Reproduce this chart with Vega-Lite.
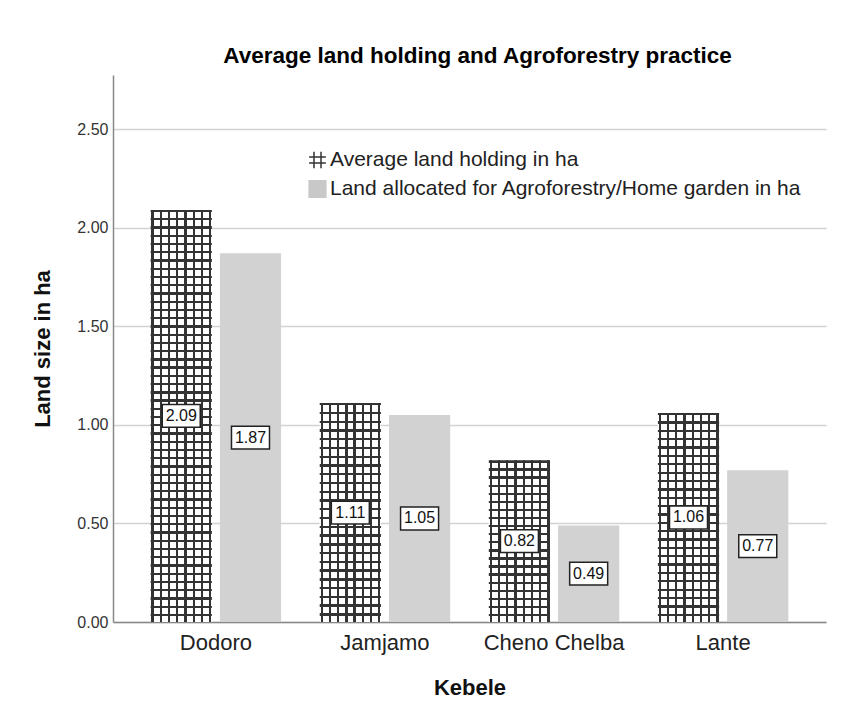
{
  "$schema": "https://vega.github.io/schema/vega-lite/v6.json",
  "width": 713,
  "height": 547,
  "autosize": {"type": "none"},
  "padding": {"left": 113, "top": 75, "right": 40, "bottom": 86},
  "background": "white",
  "config": {
    "font": "Liberation Sans",
    "view": {"stroke": null},
    "legend": {
      "orient": "none",
      "legendX": 194,
      "legendY": 74.5,
      "labelFontSize": 21,
      "labelColor": "#222222",
      "labelFont": "Liberation Sans",
      "labelLimit": 700,
      "symbolSize": 280,
      "symbolStrokeWidth": 1.5,
      "symbolOpacity": 1,
      "labelOffset": 2,
      "rowPadding": 6,
      "padding": 0
    }
  },
  "title": {
    "text": "Average land holding and Agroforestry practice",
    "fontSize": 22.5,
    "fontWeight": "bold",
    "color": "#000000",
    "anchor": "middle",
    "baseline": "alphabetic",
    "offset": 12,
    "dx": 8,
    "dy": 22
  },
  "data": {
    "values": [
      {"kebele": "Dodoro", "series": "Average land holding in ha", "value": 2.09},
      {"kebele": "Dodoro", "series": "Land  allocated for Agroforestry/Home garden in ha", "value": 1.87},
      {"kebele": "Jamjamo", "series": "Average land holding in ha", "value": 1.11},
      {"kebele": "Jamjamo", "series": "Land  allocated for Agroforestry/Home garden in ha", "value": 1.05},
      {"kebele": "Cheno Chelba", "series": "Average land holding in ha", "value": 0.82},
      {"kebele": "Cheno Chelba", "series": "Land  allocated for Agroforestry/Home garden in ha", "value": 0.49},
      {"kebele": "Lante", "series": "Average land holding in ha", "value": 1.06},
      {"kebele": "Lante", "series": "Land  allocated for Agroforestry/Home garden in ha", "value": 0.77}
    ]
  },
  "encoding": {
    "x": {
      "field": "kebele",
      "type": "nominal",
      "sort": ["Dodoro", "Jamjamo", "Cheno Chelba", "Lante"],
      "scale": {"paddingInner": 0.2285, "paddingOuter": 0.2226},
      "axis": {
        "title": "Kebele",
        "titleFontSize": 22,
        "titleFontWeight": "bold",
        "titleColor": "#111111",
        "titlePadding": 24,
        "labelFontSize": 22,
        "labelColor": "#222222",
        "labelPadding": 10,
        "labelAngle": 0,
        "ticks": false,
        "domainColor": "#888888",
        "domainWidth": 1.5,
        "grid": false
      }
    },
    "xOffset": {
      "field": "series",
      "type": "nominal",
      "scale": {
        "domain": ["Average land holding in ha", "Land  allocated for Agroforestry/Home garden in ha"],
        "paddingInner": 0.116,
        "paddingOuter": 0
      }
    }
  },
  "layer": [
    {
      "encoding": {
        "y": {
          "field": "value",
          "type": "quantitative",
          "scale": {"domain": [0, 2.774], "nice": false},
          "axis": {
            "title": "Land size in ha",
            "titleFontSize": 22,
            "titleFontWeight": "bold",
            "titleColor": "#111111",
            "titlePadding": 22,
            "labelFontSize": 16,
            "labelColor": "#333333",
            "labelPadding": 5,
            "format": ".2f",
            "values": [0, 0.5, 1, 1.5, 2, 2.5],
            "ticks": false,
            "domainColor": "#888888",
            "domainWidth": 1.5,
            "gridColor": "#d2d2d2",
            "gridWidth": 1.5
          }
        }
      },
      "layer": [
        {
          "mark": {"type": "bar"},
          "encoding": {
            "fill": {
              "condition": {
                "test": "datum.series === 'Average land holding in ha'",
                "value": {
                  "gradient": "linear", "x1": 0, "y1": 0, "x2": 1, "y2": 0,
                  "stops": [
                    {"offset": 0, "color": "#ffffff"}, {"offset": 0.0131, "color": "#ffffff"}, {"offset": 0.0131, "color": "#333333"}, {"offset": 0.0508, "color": "#333333"}, {"offset": 0.0508, "color": "#ffffff"},
                    {"offset": 0.1475, "color": "#ffffff"}, {"offset": 0.1475, "color": "#333333"}, {"offset": 0.1852, "color": "#333333"}, {"offset": 0.1852, "color": "#ffffff"},
                    {"offset": 0.282, "color": "#ffffff"}, {"offset": 0.282, "color": "#333333"}, {"offset": 0.3197, "color": "#333333"}, {"offset": 0.3197, "color": "#ffffff"},
                    {"offset": 0.4164, "color": "#ffffff"}, {"offset": 0.4164, "color": "#333333"}, {"offset": 0.4541, "color": "#333333"}, {"offset": 0.4541, "color": "#ffffff"},
                    {"offset": 0.5508, "color": "#ffffff"}, {"offset": 0.5508, "color": "#333333"}, {"offset": 0.5885, "color": "#333333"}, {"offset": 0.5885, "color": "#ffffff"},
                    {"offset": 0.6852, "color": "#ffffff"}, {"offset": 0.6852, "color": "#333333"}, {"offset": 0.723, "color": "#333333"}, {"offset": 0.723, "color": "#ffffff"},
                    {"offset": 0.8197, "color": "#ffffff"}, {"offset": 0.8197, "color": "#333333"}, {"offset": 0.8574, "color": "#333333"}, {"offset": 0.8574, "color": "#ffffff"},
                    {"offset": 0.9541, "color": "#ffffff"}, {"offset": 0.9541, "color": "#333333"}, {"offset": 0.9918, "color": "#333333"}, {"offset": 0.9918, "color": "#ffffff"},
                    {"offset": 1, "color": "#ffffff"}
                  ]
                }
              },
              "value": "#d2d2d2"
            }
          }
        },
        {
          "transform": [{"filter": "datum.series === 'Average land holding in ha'"}],
          "mark": {"type": "bar"},
          "encoding": {
            "fill": {
              "condition": [
                {
                  "test": "datum.kebele === 'Dodoro'",
                  "value": {
                    "gradient": "linear", "x1": 0, "y1": 0, "x2": 0, "y2": 1,
                    "stops": [
                      {"offset": 0, "color": "transparent"}, {"offset": 0, "color": "#333333"}, {"offset": 0.0056, "color": "#333333"}, {"offset": 0.0056, "color": "transparent"},
                      {"offset": 0.02, "color": "transparent"}, {"offset": 0.02, "color": "#333333"}, {"offset": 0.0256, "color": "#333333"}, {"offset": 0.0256, "color": "transparent"},
                      {"offset": 0.04, "color": "transparent"}, {"offset": 0.04, "color": "#333333"}, {"offset": 0.0456, "color": "#333333"}, {"offset": 0.0456, "color": "transparent"},
                      {"offset": 0.06, "color": "transparent"}, {"offset": 0.06, "color": "#333333"}, {"offset": 0.0656, "color": "#333333"}, {"offset": 0.0656, "color": "transparent"},
                      {"offset": 0.08, "color": "transparent"}, {"offset": 0.08, "color": "#333333"}, {"offset": 0.0856, "color": "#333333"}, {"offset": 0.0856, "color": "transparent"},
                      {"offset": 0.1, "color": "transparent"}, {"offset": 0.1, "color": "#333333"}, {"offset": 0.1056, "color": "#333333"}, {"offset": 0.1056, "color": "transparent"},
                      {"offset": 0.12, "color": "transparent"}, {"offset": 0.12, "color": "#333333"}, {"offset": 0.1256, "color": "#333333"}, {"offset": 0.1256, "color": "transparent"},
                      {"offset": 0.14, "color": "transparent"}, {"offset": 0.14, "color": "#333333"}, {"offset": 0.1456, "color": "#333333"}, {"offset": 0.1456, "color": "transparent"},
                      {"offset": 0.16, "color": "transparent"}, {"offset": 0.16, "color": "#333333"}, {"offset": 0.1656, "color": "#333333"}, {"offset": 0.1656, "color": "transparent"},
                      {"offset": 0.18, "color": "transparent"}, {"offset": 0.18, "color": "#333333"}, {"offset": 0.1856, "color": "#333333"}, {"offset": 0.1856, "color": "transparent"},
                      {"offset": 0.2, "color": "transparent"}, {"offset": 0.2, "color": "#333333"}, {"offset": 0.2056, "color": "#333333"}, {"offset": 0.2056, "color": "transparent"},
                      {"offset": 0.22, "color": "transparent"}, {"offset": 0.22, "color": "#333333"}, {"offset": 0.2256, "color": "#333333"}, {"offset": 0.2256, "color": "transparent"},
                      {"offset": 0.24, "color": "transparent"}, {"offset": 0.24, "color": "#333333"}, {"offset": 0.2456, "color": "#333333"}, {"offset": 0.2456, "color": "transparent"},
                      {"offset": 0.26, "color": "transparent"}, {"offset": 0.26, "color": "#333333"}, {"offset": 0.2656, "color": "#333333"}, {"offset": 0.2656, "color": "transparent"},
                      {"offset": 0.28, "color": "transparent"}, {"offset": 0.28, "color": "#333333"}, {"offset": 0.2856, "color": "#333333"}, {"offset": 0.2856, "color": "transparent"},
                      {"offset": 0.3, "color": "transparent"}, {"offset": 0.3, "color": "#333333"}, {"offset": 0.3056, "color": "#333333"}, {"offset": 0.3056, "color": "transparent"},
                      {"offset": 0.32, "color": "transparent"}, {"offset": 0.32, "color": "#333333"}, {"offset": 0.3256, "color": "#333333"}, {"offset": 0.3256, "color": "transparent"},
                      {"offset": 0.34, "color": "transparent"}, {"offset": 0.34, "color": "#333333"}, {"offset": 0.3456, "color": "#333333"}, {"offset": 0.3456, "color": "transparent"},
                      {"offset": 0.36, "color": "transparent"}, {"offset": 0.36, "color": "#333333"}, {"offset": 0.3656, "color": "#333333"}, {"offset": 0.3656, "color": "transparent"},
                      {"offset": 0.38, "color": "transparent"}, {"offset": 0.38, "color": "#333333"}, {"offset": 0.3856, "color": "#333333"}, {"offset": 0.3856, "color": "transparent"},
                      {"offset": 0.4, "color": "transparent"}, {"offset": 0.4, "color": "#333333"}, {"offset": 0.4056, "color": "#333333"}, {"offset": 0.4056, "color": "transparent"},
                      {"offset": 0.42, "color": "transparent"}, {"offset": 0.42, "color": "#333333"}, {"offset": 0.4256, "color": "#333333"}, {"offset": 0.4256, "color": "transparent"},
                      {"offset": 0.44, "color": "transparent"}, {"offset": 0.44, "color": "#333333"}, {"offset": 0.4456, "color": "#333333"}, {"offset": 0.4456, "color": "transparent"},
                      {"offset": 0.46, "color": "transparent"}, {"offset": 0.46, "color": "#333333"}, {"offset": 0.4656, "color": "#333333"}, {"offset": 0.4656, "color": "transparent"},
                      {"offset": 0.48, "color": "transparent"}, {"offset": 0.48, "color": "#333333"}, {"offset": 0.4856, "color": "#333333"}, {"offset": 0.4856, "color": "transparent"},
                      {"offset": 0.5, "color": "transparent"}, {"offset": 0.5, "color": "#333333"}, {"offset": 0.5056, "color": "#333333"}, {"offset": 0.5056, "color": "transparent"},
                      {"offset": 0.52, "color": "transparent"}, {"offset": 0.52, "color": "#333333"}, {"offset": 0.5256, "color": "#333333"}, {"offset": 0.5256, "color": "transparent"},
                      {"offset": 0.54, "color": "transparent"}, {"offset": 0.54, "color": "#333333"}, {"offset": 0.5456, "color": "#333333"}, {"offset": 0.5456, "color": "transparent"},
                      {"offset": 0.56, "color": "transparent"}, {"offset": 0.56, "color": "#333333"}, {"offset": 0.5656, "color": "#333333"}, {"offset": 0.5656, "color": "transparent"},
                      {"offset": 0.58, "color": "transparent"}, {"offset": 0.58, "color": "#333333"}, {"offset": 0.5856, "color": "#333333"}, {"offset": 0.5856, "color": "transparent"},
                      {"offset": 0.6, "color": "transparent"}, {"offset": 0.6, "color": "#333333"}, {"offset": 0.6056, "color": "#333333"}, {"offset": 0.6056, "color": "transparent"},
                      {"offset": 0.62, "color": "transparent"}, {"offset": 0.62, "color": "#333333"}, {"offset": 0.6256, "color": "#333333"}, {"offset": 0.6256, "color": "transparent"},
                      {"offset": 0.64, "color": "transparent"}, {"offset": 0.64, "color": "#333333"}, {"offset": 0.6456, "color": "#333333"}, {"offset": 0.6456, "color": "transparent"},
                      {"offset": 0.66, "color": "transparent"}, {"offset": 0.66, "color": "#333333"}, {"offset": 0.6656, "color": "#333333"}, {"offset": 0.6656, "color": "transparent"},
                      {"offset": 0.68, "color": "transparent"}, {"offset": 0.68, "color": "#333333"}, {"offset": 0.6856, "color": "#333333"}, {"offset": 0.6856, "color": "transparent"},
                      {"offset": 0.7, "color": "transparent"}, {"offset": 0.7, "color": "#333333"}, {"offset": 0.7056, "color": "#333333"}, {"offset": 0.7056, "color": "transparent"},
                      {"offset": 0.72, "color": "transparent"}, {"offset": 0.72, "color": "#333333"}, {"offset": 0.7256, "color": "#333333"}, {"offset": 0.7256, "color": "transparent"},
                      {"offset": 0.74, "color": "transparent"}, {"offset": 0.74, "color": "#333333"}, {"offset": 0.7456, "color": "#333333"}, {"offset": 0.7456, "color": "transparent"},
                      {"offset": 0.76, "color": "transparent"}, {"offset": 0.76, "color": "#333333"}, {"offset": 0.7656, "color": "#333333"}, {"offset": 0.7656, "color": "transparent"},
                      {"offset": 0.78, "color": "transparent"}, {"offset": 0.78, "color": "#333333"}, {"offset": 0.7856, "color": "#333333"}, {"offset": 0.7856, "color": "transparent"},
                      {"offset": 0.8, "color": "transparent"}, {"offset": 0.8, "color": "#333333"}, {"offset": 0.8056, "color": "#333333"}, {"offset": 0.8056, "color": "transparent"},
                      {"offset": 0.82, "color": "transparent"}, {"offset": 0.82, "color": "#333333"}, {"offset": 0.8256, "color": "#333333"}, {"offset": 0.8256, "color": "transparent"},
                      {"offset": 0.84, "color": "transparent"}, {"offset": 0.84, "color": "#333333"}, {"offset": 0.8456, "color": "#333333"}, {"offset": 0.8456, "color": "transparent"},
                      {"offset": 0.86, "color": "transparent"}, {"offset": 0.86, "color": "#333333"}, {"offset": 0.8656, "color": "#333333"}, {"offset": 0.8656, "color": "transparent"},
                      {"offset": 0.88, "color": "transparent"}, {"offset": 0.88, "color": "#333333"}, {"offset": 0.8856, "color": "#333333"}, {"offset": 0.8856, "color": "transparent"},
                      {"offset": 0.9, "color": "transparent"}, {"offset": 0.9, "color": "#333333"}, {"offset": 0.9056, "color": "#333333"}, {"offset": 0.9056, "color": "transparent"},
                      {"offset": 0.92, "color": "transparent"}, {"offset": 0.92, "color": "#333333"}, {"offset": 0.9256, "color": "#333333"}, {"offset": 0.9256, "color": "transparent"},
                      {"offset": 0.94, "color": "transparent"}, {"offset": 0.94, "color": "#333333"}, {"offset": 0.9456, "color": "#333333"}, {"offset": 0.9456, "color": "transparent"},
                      {"offset": 0.96, "color": "transparent"}, {"offset": 0.96, "color": "#333333"}, {"offset": 0.9656, "color": "#333333"}, {"offset": 0.9656, "color": "transparent"},
                      {"offset": 0.98, "color": "transparent"}, {"offset": 0.98, "color": "#333333"}, {"offset": 0.9856, "color": "#333333"}, {"offset": 0.9856, "color": "transparent"},
                      {"offset": 1, "color": "transparent"}
                    ]
                  }
                },
                {
                  "test": "datum.kebele === 'Jamjamo'",
                  "value": {
                    "gradient": "linear", "x1": 0, "y1": 0, "x2": 0, "y2": 1,
                    "stops": [
                      {"offset": 0, "color": "transparent"}, {"offset": 0, "color": "#333333"}, {"offset": 0.0105, "color": "#333333"}, {"offset": 0.0105, "color": "transparent"},
                      {"offset": 0.04, "color": "transparent"}, {"offset": 0.04, "color": "#333333"}, {"offset": 0.0505, "color": "#333333"}, {"offset": 0.0505, "color": "transparent"},
                      {"offset": 0.08, "color": "transparent"}, {"offset": 0.08, "color": "#333333"}, {"offset": 0.0905, "color": "#333333"}, {"offset": 0.0905, "color": "transparent"},
                      {"offset": 0.12, "color": "transparent"}, {"offset": 0.12, "color": "#333333"}, {"offset": 0.1305, "color": "#333333"}, {"offset": 0.1305, "color": "transparent"},
                      {"offset": 0.16, "color": "transparent"}, {"offset": 0.16, "color": "#333333"}, {"offset": 0.1705, "color": "#333333"}, {"offset": 0.1705, "color": "transparent"},
                      {"offset": 0.2, "color": "transparent"}, {"offset": 0.2, "color": "#333333"}, {"offset": 0.2105, "color": "#333333"}, {"offset": 0.2105, "color": "transparent"},
                      {"offset": 0.24, "color": "transparent"}, {"offset": 0.24, "color": "#333333"}, {"offset": 0.2505, "color": "#333333"}, {"offset": 0.2505, "color": "transparent"},
                      {"offset": 0.28, "color": "transparent"}, {"offset": 0.28, "color": "#333333"}, {"offset": 0.2905, "color": "#333333"}, {"offset": 0.2905, "color": "transparent"},
                      {"offset": 0.32, "color": "transparent"}, {"offset": 0.32, "color": "#333333"}, {"offset": 0.3305, "color": "#333333"}, {"offset": 0.3305, "color": "transparent"},
                      {"offset": 0.36, "color": "transparent"}, {"offset": 0.36, "color": "#333333"}, {"offset": 0.3705, "color": "#333333"}, {"offset": 0.3705, "color": "transparent"},
                      {"offset": 0.4, "color": "transparent"}, {"offset": 0.4, "color": "#333333"}, {"offset": 0.4105, "color": "#333333"}, {"offset": 0.4105, "color": "transparent"},
                      {"offset": 0.44, "color": "transparent"}, {"offset": 0.44, "color": "#333333"}, {"offset": 0.4505, "color": "#333333"}, {"offset": 0.4505, "color": "transparent"},
                      {"offset": 0.48, "color": "transparent"}, {"offset": 0.48, "color": "#333333"}, {"offset": 0.4905, "color": "#333333"}, {"offset": 0.4905, "color": "transparent"},
                      {"offset": 0.52, "color": "transparent"}, {"offset": 0.52, "color": "#333333"}, {"offset": 0.5305, "color": "#333333"}, {"offset": 0.5305, "color": "transparent"},
                      {"offset": 0.56, "color": "transparent"}, {"offset": 0.56, "color": "#333333"}, {"offset": 0.5705, "color": "#333333"}, {"offset": 0.5705, "color": "transparent"},
                      {"offset": 0.6, "color": "transparent"}, {"offset": 0.6, "color": "#333333"}, {"offset": 0.6105, "color": "#333333"}, {"offset": 0.6105, "color": "transparent"},
                      {"offset": 0.64, "color": "transparent"}, {"offset": 0.64, "color": "#333333"}, {"offset": 0.6505, "color": "#333333"}, {"offset": 0.6505, "color": "transparent"},
                      {"offset": 0.68, "color": "transparent"}, {"offset": 0.68, "color": "#333333"}, {"offset": 0.6905, "color": "#333333"}, {"offset": 0.6905, "color": "transparent"},
                      {"offset": 0.72, "color": "transparent"}, {"offset": 0.72, "color": "#333333"}, {"offset": 0.7305, "color": "#333333"}, {"offset": 0.7305, "color": "transparent"},
                      {"offset": 0.76, "color": "transparent"}, {"offset": 0.76, "color": "#333333"}, {"offset": 0.7705, "color": "#333333"}, {"offset": 0.7705, "color": "transparent"},
                      {"offset": 0.8, "color": "transparent"}, {"offset": 0.8, "color": "#333333"}, {"offset": 0.8105, "color": "#333333"}, {"offset": 0.8105, "color": "transparent"},
                      {"offset": 0.84, "color": "transparent"}, {"offset": 0.84, "color": "#333333"}, {"offset": 0.8505, "color": "#333333"}, {"offset": 0.8505, "color": "transparent"},
                      {"offset": 0.88, "color": "transparent"}, {"offset": 0.88, "color": "#333333"}, {"offset": 0.8905, "color": "#333333"}, {"offset": 0.8905, "color": "transparent"},
                      {"offset": 0.92, "color": "transparent"}, {"offset": 0.92, "color": "#333333"}, {"offset": 0.9305, "color": "#333333"}, {"offset": 0.9305, "color": "transparent"},
                      {"offset": 0.96, "color": "transparent"}, {"offset": 0.96, "color": "#333333"}, {"offset": 0.9705, "color": "#333333"}, {"offset": 0.9705, "color": "transparent"},
                      {"offset": 1, "color": "transparent"}
                    ]
                  }
                },
                {
                  "test": "datum.kebele === 'Cheno Chelba'",
                  "value": {
                    "gradient": "linear", "x1": 0, "y1": 0, "x2": 0, "y2": 1,
                    "stops": [
                      {"offset": 0, "color": "transparent"}, {"offset": 0, "color": "#333333"}, {"offset": 0.0142, "color": "#333333"}, {"offset": 0.0142, "color": "transparent"},
                      {"offset": 0.05, "color": "transparent"}, {"offset": 0.05, "color": "#333333"}, {"offset": 0.0642, "color": "#333333"}, {"offset": 0.0642, "color": "transparent"},
                      {"offset": 0.1, "color": "transparent"}, {"offset": 0.1, "color": "#333333"}, {"offset": 0.1142, "color": "#333333"}, {"offset": 0.1142, "color": "transparent"},
                      {"offset": 0.15, "color": "transparent"}, {"offset": 0.15, "color": "#333333"}, {"offset": 0.1642, "color": "#333333"}, {"offset": 0.1642, "color": "transparent"},
                      {"offset": 0.2, "color": "transparent"}, {"offset": 0.2, "color": "#333333"}, {"offset": 0.2142, "color": "#333333"}, {"offset": 0.2142, "color": "transparent"},
                      {"offset": 0.25, "color": "transparent"}, {"offset": 0.25, "color": "#333333"}, {"offset": 0.2642, "color": "#333333"}, {"offset": 0.2642, "color": "transparent"},
                      {"offset": 0.3, "color": "transparent"}, {"offset": 0.3, "color": "#333333"}, {"offset": 0.3142, "color": "#333333"}, {"offset": 0.3142, "color": "transparent"},
                      {"offset": 0.35, "color": "transparent"}, {"offset": 0.35, "color": "#333333"}, {"offset": 0.3642, "color": "#333333"}, {"offset": 0.3642, "color": "transparent"},
                      {"offset": 0.4, "color": "transparent"}, {"offset": 0.4, "color": "#333333"}, {"offset": 0.4142, "color": "#333333"}, {"offset": 0.4142, "color": "transparent"},
                      {"offset": 0.45, "color": "transparent"}, {"offset": 0.45, "color": "#333333"}, {"offset": 0.4642, "color": "#333333"}, {"offset": 0.4642, "color": "transparent"},
                      {"offset": 0.5, "color": "transparent"}, {"offset": 0.5, "color": "#333333"}, {"offset": 0.5142, "color": "#333333"}, {"offset": 0.5142, "color": "transparent"},
                      {"offset": 0.55, "color": "transparent"}, {"offset": 0.55, "color": "#333333"}, {"offset": 0.5642, "color": "#333333"}, {"offset": 0.5642, "color": "transparent"},
                      {"offset": 0.6, "color": "transparent"}, {"offset": 0.6, "color": "#333333"}, {"offset": 0.6142, "color": "#333333"}, {"offset": 0.6142, "color": "transparent"},
                      {"offset": 0.65, "color": "transparent"}, {"offset": 0.65, "color": "#333333"}, {"offset": 0.6642, "color": "#333333"}, {"offset": 0.6642, "color": "transparent"},
                      {"offset": 0.7, "color": "transparent"}, {"offset": 0.7, "color": "#333333"}, {"offset": 0.7142, "color": "#333333"}, {"offset": 0.7142, "color": "transparent"},
                      {"offset": 0.75, "color": "transparent"}, {"offset": 0.75, "color": "#333333"}, {"offset": 0.7642, "color": "#333333"}, {"offset": 0.7642, "color": "transparent"},
                      {"offset": 0.8, "color": "transparent"}, {"offset": 0.8, "color": "#333333"}, {"offset": 0.8142, "color": "#333333"}, {"offset": 0.8142, "color": "transparent"},
                      {"offset": 0.85, "color": "transparent"}, {"offset": 0.85, "color": "#333333"}, {"offset": 0.8642, "color": "#333333"}, {"offset": 0.8642, "color": "transparent"},
                      {"offset": 0.9, "color": "transparent"}, {"offset": 0.9, "color": "#333333"}, {"offset": 0.9142, "color": "#333333"}, {"offset": 0.9142, "color": "transparent"},
                      {"offset": 0.95, "color": "transparent"}, {"offset": 0.95, "color": "#333333"}, {"offset": 0.9642, "color": "#333333"}, {"offset": 0.9642, "color": "transparent"},
                      {"offset": 1, "color": "transparent"}
                    ]
                  }
                }
              ],
              "value": {
                "gradient": "linear", "x1": 0, "y1": 0, "x2": 0, "y2": 1,
                "stops": [
                  {"offset": 0, "color": "transparent"}, {"offset": 0, "color": "#333333"}, {"offset": 0.011, "color": "#333333"}, {"offset": 0.011, "color": "transparent"},
                  {"offset": 0.04, "color": "transparent"}, {"offset": 0.04, "color": "#333333"}, {"offset": 0.051, "color": "#333333"}, {"offset": 0.051, "color": "transparent"},
                  {"offset": 0.08, "color": "transparent"}, {"offset": 0.08, "color": "#333333"}, {"offset": 0.091, "color": "#333333"}, {"offset": 0.091, "color": "transparent"},
                  {"offset": 0.12, "color": "transparent"}, {"offset": 0.12, "color": "#333333"}, {"offset": 0.131, "color": "#333333"}, {"offset": 0.131, "color": "transparent"},
                  {"offset": 0.16, "color": "transparent"}, {"offset": 0.16, "color": "#333333"}, {"offset": 0.171, "color": "#333333"}, {"offset": 0.171, "color": "transparent"},
                  {"offset": 0.2, "color": "transparent"}, {"offset": 0.2, "color": "#333333"}, {"offset": 0.211, "color": "#333333"}, {"offset": 0.211, "color": "transparent"},
                  {"offset": 0.24, "color": "transparent"}, {"offset": 0.24, "color": "#333333"}, {"offset": 0.251, "color": "#333333"}, {"offset": 0.251, "color": "transparent"},
                  {"offset": 0.28, "color": "transparent"}, {"offset": 0.28, "color": "#333333"}, {"offset": 0.291, "color": "#333333"}, {"offset": 0.291, "color": "transparent"},
                  {"offset": 0.32, "color": "transparent"}, {"offset": 0.32, "color": "#333333"}, {"offset": 0.331, "color": "#333333"}, {"offset": 0.331, "color": "transparent"},
                  {"offset": 0.36, "color": "transparent"}, {"offset": 0.36, "color": "#333333"}, {"offset": 0.371, "color": "#333333"}, {"offset": 0.371, "color": "transparent"},
                  {"offset": 0.4, "color": "transparent"}, {"offset": 0.4, "color": "#333333"}, {"offset": 0.411, "color": "#333333"}, {"offset": 0.411, "color": "transparent"},
                  {"offset": 0.44, "color": "transparent"}, {"offset": 0.44, "color": "#333333"}, {"offset": 0.451, "color": "#333333"}, {"offset": 0.451, "color": "transparent"},
                  {"offset": 0.48, "color": "transparent"}, {"offset": 0.48, "color": "#333333"}, {"offset": 0.491, "color": "#333333"}, {"offset": 0.491, "color": "transparent"},
                  {"offset": 0.52, "color": "transparent"}, {"offset": 0.52, "color": "#333333"}, {"offset": 0.531, "color": "#333333"}, {"offset": 0.531, "color": "transparent"},
                  {"offset": 0.56, "color": "transparent"}, {"offset": 0.56, "color": "#333333"}, {"offset": 0.571, "color": "#333333"}, {"offset": 0.571, "color": "transparent"},
                  {"offset": 0.6, "color": "transparent"}, {"offset": 0.6, "color": "#333333"}, {"offset": 0.611, "color": "#333333"}, {"offset": 0.611, "color": "transparent"},
                  {"offset": 0.64, "color": "transparent"}, {"offset": 0.64, "color": "#333333"}, {"offset": 0.651, "color": "#333333"}, {"offset": 0.651, "color": "transparent"},
                  {"offset": 0.68, "color": "transparent"}, {"offset": 0.68, "color": "#333333"}, {"offset": 0.691, "color": "#333333"}, {"offset": 0.691, "color": "transparent"},
                  {"offset": 0.72, "color": "transparent"}, {"offset": 0.72, "color": "#333333"}, {"offset": 0.731, "color": "#333333"}, {"offset": 0.731, "color": "transparent"},
                  {"offset": 0.76, "color": "transparent"}, {"offset": 0.76, "color": "#333333"}, {"offset": 0.771, "color": "#333333"}, {"offset": 0.771, "color": "transparent"},
                  {"offset": 0.8, "color": "transparent"}, {"offset": 0.8, "color": "#333333"}, {"offset": 0.811, "color": "#333333"}, {"offset": 0.811, "color": "transparent"},
                  {"offset": 0.84, "color": "transparent"}, {"offset": 0.84, "color": "#333333"}, {"offset": 0.851, "color": "#333333"}, {"offset": 0.851, "color": "transparent"},
                  {"offset": 0.88, "color": "transparent"}, {"offset": 0.88, "color": "#333333"}, {"offset": 0.891, "color": "#333333"}, {"offset": 0.891, "color": "transparent"},
                  {"offset": 0.92, "color": "transparent"}, {"offset": 0.92, "color": "#333333"}, {"offset": 0.931, "color": "#333333"}, {"offset": 0.931, "color": "transparent"},
                  {"offset": 0.96, "color": "transparent"}, {"offset": 0.96, "color": "#333333"}, {"offset": 0.971, "color": "#333333"}, {"offset": 0.971, "color": "transparent"},
                  {"offset": 1, "color": "transparent"}
                ]
              }
            }
          }
        },
        {
          "mark": {"type": "point", "opacity": 0, "filled": true},
          "encoding": {
            "shape": {
              "field": "series",
              "type": "nominal",
              "scale": {
                "domain": ["Average land holding in ha", "Land  allocated for Agroforestry/Home garden in ha"],
                "range": ["M-0.42,-1V1M0.42,-1V1M-1,-0.36H1M-1,0.36H1", "square"]
              },
              "legend": {"title": null}
            },
            "fill": {
              "field": "series",
              "type": "nominal",
              "scale": {
                "domain": ["Average land holding in ha", "Land  allocated for Agroforestry/Home garden in ha"],
                "range": ["transparent", "#c8c8c8"]
              },
              "legend": {"title": null}
            },
            "stroke": {
              "field": "series",
              "type": "nominal",
              "scale": {
                "domain": ["Average land holding in ha", "Land  allocated for Agroforestry/Home garden in ha"],
                "range": ["#333333", "#c8c8c8"]
              },
              "legend": {"title": null}
            }
          }
        }
      ]
    },
    {
      "encoding": {
        "y": {
          "field": "value",
          "type": "quantitative",
          "scale": {"domain": [0, 5.548], "nice": false},
          "axis": null
        }
      },
      "layer": [
        {
          "mark": {
            "type": "point",
            "shape": "M-1,-0.6H1V0.6H-1Z",
            "size": 1444,
            "filled": true,
            "fill": "#ffffff",
            "fillOpacity": 1,
            "opacity": 1,
            "stroke": "#222222",
            "strokeWidth": 1.5
          }
        },
        {
          "mark": {"type": "text", "fontSize": 16, "color": "#111111"},
          "encoding": {
            "text": {"field": "value", "type": "quantitative", "format": ".2f"}
          }
        }
      ]
    }
  ],
  "resolve": {"scale": {"y": "independent"}}
}
